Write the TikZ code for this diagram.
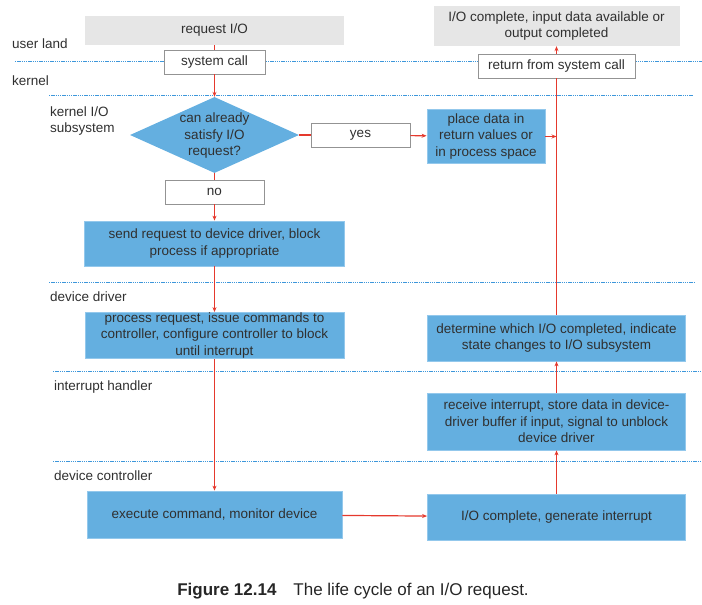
\documentclass[tikz,border=0pt]{standalone}
\usepackage{fontspec}
\setmainfont{Liberation Sans}
\usetikzlibrary{shapes.geometric,arrows.meta}
\definecolor{boxblue}{HTML}{64AFE0}
\definecolor{boxedge}{HTML}{93C8EC}
\definecolor{shade}{HTML}{E6E6E6}
\definecolor{wire}{HTML}{E5392D}
\definecolor{sepblue}{HTML}{3D97DB}
\definecolor{ink}{HTML}{303030}

\begin{document}
\begin{tikzpicture}[x=1pt,y=-1pt,>={Stealth[length=5pt,width=4pt]},
    every node/.style={text=ink,font=\fontsize{13.5}{16.5}\selectfont,inner sep=0pt},
    user box/.style={fill=shade,align=center},
    call box/.style={draw=gray!85,fill=white,line width=0.8pt,align=center},
    blue box/.style={draw=boxedge,fill=boxblue,line width=0.8pt,align=center},
    decision/.style={diamond,fill=boxblue,minimum width=169pt,minimum height=76pt},
    layer/.style={anchor=west,align=left},
    sep line/.style={sepblue,line width=1pt,dash pattern=on 1.3pt off 0.9pt},
    flow/.style={wire,line width=1.2pt}]

    \useasboundingbox (0,0) rectangle (702,605);

    % layer separators
    \draw[sep line] (15,61.5) -- (702,61.5);
    \draw[sep line] (49,95) -- (693,95);
    \draw[sep line] (49,282) -- (694,282);
    \draw[sep line] (53,371) -- (700,371);
    \draw[sep line] (53,461) -- (700,461);

    \node[layer] (userland) at (12,43.5) {user land};
    \node[layer] (kernel) at (12,80.5) {kernel};
    \node[layer] (kio) at (50,121) {kernel I/O\\subsystem};
    \node[layer] (driver) at (50,297) {device driver};
    \node[layer] (handler) at (54,387) {interrupt handler};
    \node[layer] (controller) at (54,476) {device controller};

    % request path
    \node[user box,minimum width=259pt,minimum height=29pt] (req) at (214.5,30.5) {request I/O};
    \node[call box,minimum width=101pt,minimum height=24pt] (sys) at (214.5,62) {system call};
    \node[decision,label={[name=satq,align=center,yshift=-1pt]center:{can already\\satisfy I/O\\request?}}] (sat) at (214.5,135) {};
    \node[call box,minimum width=99pt,minimum height=24pt] (yes) at (360.5,135) {yes};
    \node[blue box,minimum width=118pt,minimum height=54pt] (place) at (486,136.5) {place data in\\return values or\\in process space};
    \node[call box,minimum width=99pt,minimum height=24pt] (no) at (214.5,192) {no};
    \node[blue box,minimum width=260pt,minimum height=45pt] (send) at (214.5,243.5) {send request to device driver, block\\process if appropriate};
    \node[blue box,minimum width=259pt,minimum height=46pt] (proc) at (214.5,335.5) {process request, issue commands to\\controller, configure controller to block\\until interrupt};
    \node[blue box,minimum width=255pt,minimum height=47pt] (exec) at (214.5,514.5) {execute command, monitor device};

    % completion path
    \node[blue box,minimum width=258pt,minimum height=46pt] (gen) at (556.5,517) {I/O complete, generate interrupt};
    \node[blue box,minimum width=258pt,minimum height=57pt] (recv) at (556.5,421.5) {receive interrupt, store data in device-\\driver buffer if input, signal to unblock\\device driver};
    \node[blue box,minimum width=258pt,minimum height=46pt] (det) at (556.5,338) {determine which I/O completed, indicate\\state changes to I/O subsystem};
    \node[call box,minimum width=157pt,minimum height=24pt] (ret) at (556.5,66) {return from system call};
    \node[user box,minimum width=246pt,minimum height=40pt] (done) at (556.5,26) {I/O complete, input data available or\\output completed};
    \coordinate (join) at (place -| det);

    \path[flow]
        (req) edge (sys)
        (sys) edge[->] (sat)
        (sat) edge (no)
        (no) edge[->] (send)
        (send) edge[->] (proc)
        (proc) edge[->] (exec)
        (sat) edge (yes)
        (yes) edge[->] (place)
        (exec) edge[->] (gen)
        (gen) edge[->] (recv)
        (recv) edge[->] (det)
        (det) edge (ret)
        (ret) edge[->] (done)
        (place) edge[->] (join)
        ;

    \node[anchor=base,text=black!85,font=\fontsize{17}{20}\selectfont] (caption) at (353,595)
        {\textbf{Figure 12.14}\quad The life cycle of an I/O request.};
\end{tikzpicture}
\end{document}
